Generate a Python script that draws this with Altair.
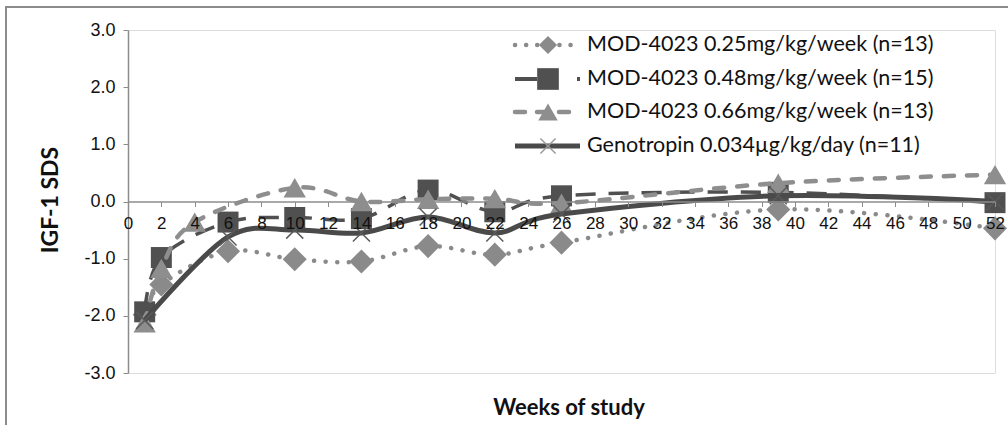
import altair as alt
import pandas as pd

# ---- data ----
labels = [
    "MOD-4023 0.25mg/kg/week (n=13)",
    "MOD-4023 0.48mg/kg/week (n=15)",
    "MOD-4023 0.66mg/kg/week (n=13)",
    "Genotropin 0.034µg/kg/day (n=11)",
]
weeks_025 = [1, 2, 6, 10, 14, 18, 22, 26, 39, 52]
sds_025 = [-1.98, -1.45, -0.87, -1.01, -1.05, -0.78, -0.93, -0.72, -0.14, -0.47]
weeks_048 = [1, 2, 6, 10, 14, 18, 22, 26, 39, 52]
sds_048 = [-1.93, -0.98, -0.36, -0.28, -0.30, 0.20, -0.18, 0.10, 0.16, -0.02]
weeks_066 = [1, 2, 4, 10, 14, 18, 22, 26, 39, 52]
sds_066 = [-2.12, -1.17, -0.36, 0.24, 0.00, 0.04, 0.05, -0.03, 0.32, 0.47]
weeks_gen = [1, 6, 10, 14, 18, 22, 26, 39, 52]
sds_gen = [-2.08, -0.62, -0.50, -0.55, -0.27, -0.55, -0.22, 0.10, 0.00]

x_ticks = list(range(0, 53, 2))
y_ticks = [-3, -2, -1, 0, 1, 2, 3]

frames = []
for lab, w, v in zip(labels, [weeks_025, weeks_048, weeks_066, weeks_gen],
                     [sds_025, sds_048, sds_066, sds_gen]):
    frames.append(pd.DataFrame({"series": lab, "week": w, "sds": v}))
df = pd.concat(frames, ignore_index=True)

W, H = 867, 343

xs = alt.Scale(domain=[0, 52], nice=False, zero=False)
ys = alt.Scale(domain=[-3, 3], nice=False)

X = alt.X("week:Q", scale=xs, axis=alt.Axis(
    values=x_ticks, orient="bottom", offset=-H / 2, title=None, grid=False,
    domainColor="#8c8c8c", domainWidth=1.5, tickColor="#8c8c8c", tickSize=5,
    labelFont="Liberation Sans", labelFontSize=17, labelColor="#111",
    labelPadding=9, labelFlush=False, labelOverlap=False, zindex=1))
Y = alt.Y("sds:Q", scale=ys, axis=alt.Axis(
    values=y_ticks, grid=False, title="IGF-1 SDS",
    labelExpr="replace(format(datum.value, '.1f'), '\u2212', '-')",
    domainColor="#8c8c8c", domainWidth=1.5, tickColor="#8c8c8c", tickSize=5,
    labelFont="Liberation Sans", labelFontSize=18, labelColor="#111",
    labelPadding=8, titleFont="Lato", titleFontSize=23, titleFontWeight="bold",
    titleColor="#111", titleX=-78, titleY=H / 2 - 2, titleAngle=-90,
    titleAlign="center", titleBaseline="middle"))

base = alt.Chart(df)

def sub(i):
    return base.transform_filter(alt.datum.series == labels[i])

c_dot = "#8a8a8a"
c_sq = "#505050"
c_tri = "#8e8e8e"
c_gen = "#4a4a4a"
X_PATH = "M-1,-1L1,1M-1,1L1,-1"
interp = "cardinal"

line_styles = [
    dict(color=c_dot, strokeWidth=4.5, strokeDash=[0.1, 11.5], strokeCap="round"),
    dict(color=c_sq, strokeWidth=3.5, strokeDash=[20, 13]),
    dict(color=c_tri, strokeWidth=4.5, strokeDash=[10, 13], strokeCap="round"),
    dict(color=c_gen, strokeWidth=5),
]
point_styles = [
    dict(shape="diamond", filled=True, size=580, color=c_dot),
    dict(shape="square", filled=True, size=440, color=c_sq),
    dict(shape="triangle-up", filled=True, size=500, color=c_tri),
    dict(shape=X_PATH, filled=False, size=290, color="#5a5a5a", strokeWidth=1.5),
]

data_layers = []
for i in range(4):
    data_layers.append(sub(i).mark_line(interpolate=interp, tension=0,
                                        **line_styles[i]).encode(x=X, y=Y))
    data_layers.append(sub(i).mark_point(opacity=1, **point_styles[i]).encode(x=X, y=Y))

# ---- legend (drawn in pixels, top right of the plot) ----
leg_rows = [15, 49, 82, 116]
lx1, lx2, lxm, ltx = 387, 452, 420, 459
leg_marks = [
    dict(shape="diamond", filled=True, size=330, color=c_dot),
    dict(shape="square", filled=True, size=470, color=c_sq),
    dict(shape="triangle-up", filled=True, size=380, color=c_tri),
    dict(shape=X_PATH, filled=False, size=230, color="#9a9a9a", strokeWidth=1.5),
]
leg_lines = [
    dict(color=c_dot, strokeWidth=4.5, strokeDash=[0.1, 11], strokeCap="round"),
    dict(color=c_sq, strokeWidth=4, strokeDash=[22, 40, 6, 10]),
    dict(color=c_tri, strokeWidth=4.5, strokeDash=[10, 12], strokeCap="round"),
    dict(color=c_gen, strokeWidth=5),
]
leg_layers = []
for i, lab in enumerate(labels):
    one = alt.Chart(pd.DataFrame({"label": [lab]}))
    yy = leg_rows[i]
    leg_layers.append(one.mark_rule(**leg_lines[i]).encode(
        x=alt.value(lx1), x2=alt.value(lx2), y=alt.value(yy)))
    leg_layers.append(one.mark_point(opacity=1, **leg_marks[i]).encode(
        x=alt.value(lxm), y=alt.value(yy)))
    leg_layers.append(one.mark_text(align="left", baseline="middle", font="Lato",
                                    fontSize=21.5, color="#111").encode(
        text="label:N", x=alt.value(ltx), y=alt.value(yy)))

one = alt.Chart(pd.DataFrame({"t": ["Weeks of study"]}))
xtitle = one.mark_text(align="center", baseline="middle", font="Lato", fontSize=22,
                       fontWeight="bold", color="#111").encode(
    text="t:N", x=alt.value(441), y=alt.value(378))
frame = one.mark_rect(fill=None, stroke="#8c8c8c", strokeWidth=2).encode(
    x=alt.value(-122), x2=alt.value(1000), y=alt.value(-23), y2=alt.value(500))

chart = alt.layer(
    frame, *data_layers, xtitle, *leg_layers
).properties(
    width=W, height=H,
    autosize=alt.AutoSizeParams(type="none"),
    padding={"left": 128, "top": 30, "right": 13, "bottom": 52},
).configure_view(stroke=None).configure(background="white")

chart.save("out.html", embed_options={"renderer": "svg", "actions": False})
